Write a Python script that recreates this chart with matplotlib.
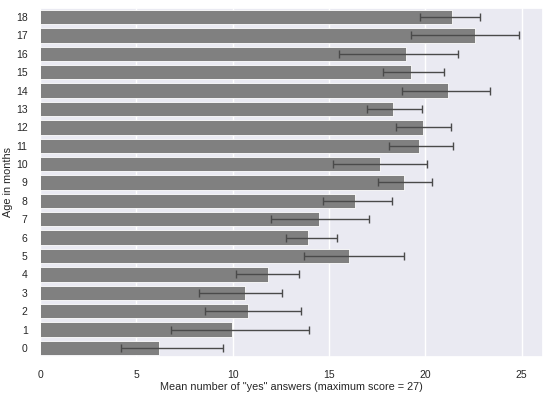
import matplotlib
matplotlib.use('Agg')
import matplotlib.pyplot as plt
import seaborn as sns
import numpy as np

ages = list(range(19))
means = [6.18, 9.96, 10.79, 10.65, 11.82, 16.02, 13.93, 14.50, 16.33, 18.87,
         17.62, 19.68, 19.90, 18.33, 21.15, 19.27, 18.97, 22.58, 21.37]
err_low = [4.19, 6.77, 8.58, 8.25, 10.15, 13.69, 12.77, 11.96, 14.71, 17.54,
           15.21, 18.11, 18.47, 16.95, 18.78, 17.78, 15.54, 19.23, 19.71]
err_high = [9.48, 13.98, 13.52, 12.55, 13.46, 18.90, 15.43, 17.07, 18.26, 20.32,
            20.08, 21.44, 21.35, 19.83, 23.37, 20.99, 21.70, 24.86, 22.82]

sns.set_theme(style='darkgrid')
plt.rcParams['font.family'] = ['Liberation Sans', 'DejaVu Sans']

fig = plt.figure(figsize=(5.5, 3.95), dpi=100)
ax = fig.add_axes([0.073, 0.096, 0.914, 0.884])

means = np.array(means)
xerr = [means - np.array(err_low), np.array(err_high) - means]

ax.barh(ages, means, height=0.78, color='#808080', edgecolor='white', linewidth=0.6, zorder=2)
ax.errorbar(means, ages, xerr=xerr, fmt='none', ecolor='#4a4a4a',
            elinewidth=1.0, capsize=3, capthick=1.0, zorder=3)

ax.set_ylim(-0.5, 18.5)
ax.set_xlim(0, 26.1)
ax.set_yticks(ages)
ax.set_yticklabels([str(a) for a in ages])
ax.set_xticks([0, 5, 10, 15, 20, 25])
ax.tick_params(labelsize=7.5, pad=3)
ax.grid(axis='y', visible=False)
ax.set_xlabel('Mean number of "yes" answers (maximum score = 27)', fontsize=7.8, labelpad=2)
ax.set_ylabel('Age in months', fontsize=7.8, labelpad=2)

fig.savefig('out.png', dpi=100)
